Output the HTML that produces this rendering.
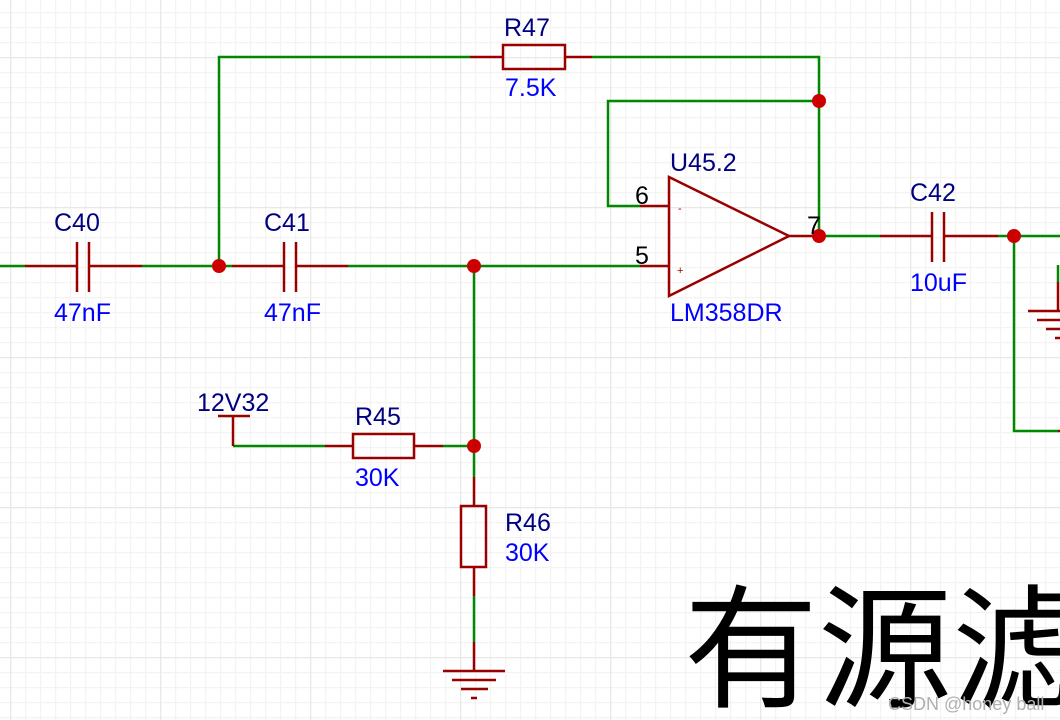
<!DOCTYPE html>
<html><head><meta charset="utf-8"><style>
html,body{margin:0;padding:0;background:#fff;}
svg{display:block}
text{font-family:"Liberation Sans",Arial,sans-serif;}
</style></head><body>
<svg width="1060" height="720" viewBox="0 0 1060 720" xmlns="http://www.w3.org/2000/svg">
<defs>
<pattern id="minor" x="10" y="12" width="15" height="15" patternUnits="userSpaceOnUse">
<path d="M0.5 0V15M0 0.5H15" stroke="#f3f3f1" stroke-width="1.5" fill="none"/>
</pattern>
<pattern id="major" x="10" y="57" width="150" height="150" patternUnits="userSpaceOnUse">
<path d="M0.5 0V150M0 0.5H150" stroke="#e8e8e6" stroke-width="1.5" fill="none"/>
</pattern>
</defs>
<rect width="1060" height="720" fill="#fff"/>
<rect width="1060" height="720" fill="url(#minor)"/>
<rect width="1060" height="720" fill="url(#major)"/>

<g stroke="#008800" stroke-width="2.5" fill="none">
<path d="M0 266H25"/>
<path d="M142 266H232"/>
<path d="M348 266H640"/>
<path d="M219 266V57H470"/>
<path d="M592 57H819V236"/>
<path d="M819 101H608V206H640"/>
<path d="M819 236H880"/>
<path d="M998 236H1060"/>
<path d="M1014 236V431H1058"/>
<path d="M1058 265V282"/>
<path d="M233 446H325"/>
<path d="M443 446H474V266"/>
<path d="M474 446V477"/>
<path d="M474 596V642"/>
</g>
<g stroke="#990000" stroke-width="2.5" fill="none">
<path d="M25 266H77M89 266H142M77 242V292M89 242V292"/>
<path d="M232 266H284M296 266H348M284 242V292M296 242V292"/>
<path d="M880 236H932M944 236H998M932 212V262M944 212V262"/>
<path d="M470 57H503M565 57H592"/>
<rect x="503" y="45" width="62" height="24"/>
<path d="M640 206H669M640 266H669"/>
<path d="M669 177V296L789 236Z"/>
<path d="M789 236H819"/>
<path d="M325 446H353M414 446H443"/>
<rect x="353" y="434" width="61" height="24"/>
<path d="M474 477V506M474 567V596"/>
<rect x="461" y="506" width="25" height="61"/>
<path d="M474 642V671M443 671H505M452 680H496M461 689H488M471 698H477"/>
<path d="M1058 282V311M1028 311H1060M1037 320H1060M1046 329H1060M1055 338H1060"/>
<path d="M1058 431H1060"/>
<path d="M218 416H250M233 416V446"/>
</g>
<g fill="#cc0000">
<circle cx="219" cy="266" r="7"/>
<circle cx="474" cy="266" r="7"/>
<circle cx="819" cy="101" r="7"/>
<circle cx="819" cy="236" r="7"/>
<circle cx="1014" cy="236" r="7"/>
<circle cx="474" cy="446" r="7"/>
</g>
<g font-size="25" fill="#000080">
<text x="504" y="36">R47</text>
<text x="54" y="231">C40</text>
<text x="264" y="231">C41</text>
<text x="670" y="171">U45.2</text>
<text x="910" y="201">C42</text>
<text x="197" y="411">12V32</text>
<text x="355" y="425">R45</text>
<text x="505" y="531">R46</text>
</g>
<g font-size="25" fill="#000">
<text x="635" y="204">6</text>
<text x="635" y="264">5</text>
<text x="807" y="234">7</text>
</g>
<g font-size="25" fill="#0000ff">
<text x="505" y="96">7.5K</text>
<text x="54" y="321">47nF</text>
<text x="264" y="321">47nF</text>
<text x="670" y="321">LM358DR</text>
<text x="910" y="291">10uF</text>
<text x="355" y="486">30K</text>
<text x="505" y="561">30K</text>
</g>
<text x="678" y="212" font-size="11" fill="#990000">-</text>
<text x="677" y="274" font-size="11" fill="#990000">+</text>
<text x="684" y="697" font-size="134" fill="#000" style='font-family:"Noto Sans CJK SC",sans-serif'>有源滤</text>
<text x="888" y="710" font-size="18" fill="#b0b0b0">CSDN @honey ball</text>
</svg>
</body></html>
